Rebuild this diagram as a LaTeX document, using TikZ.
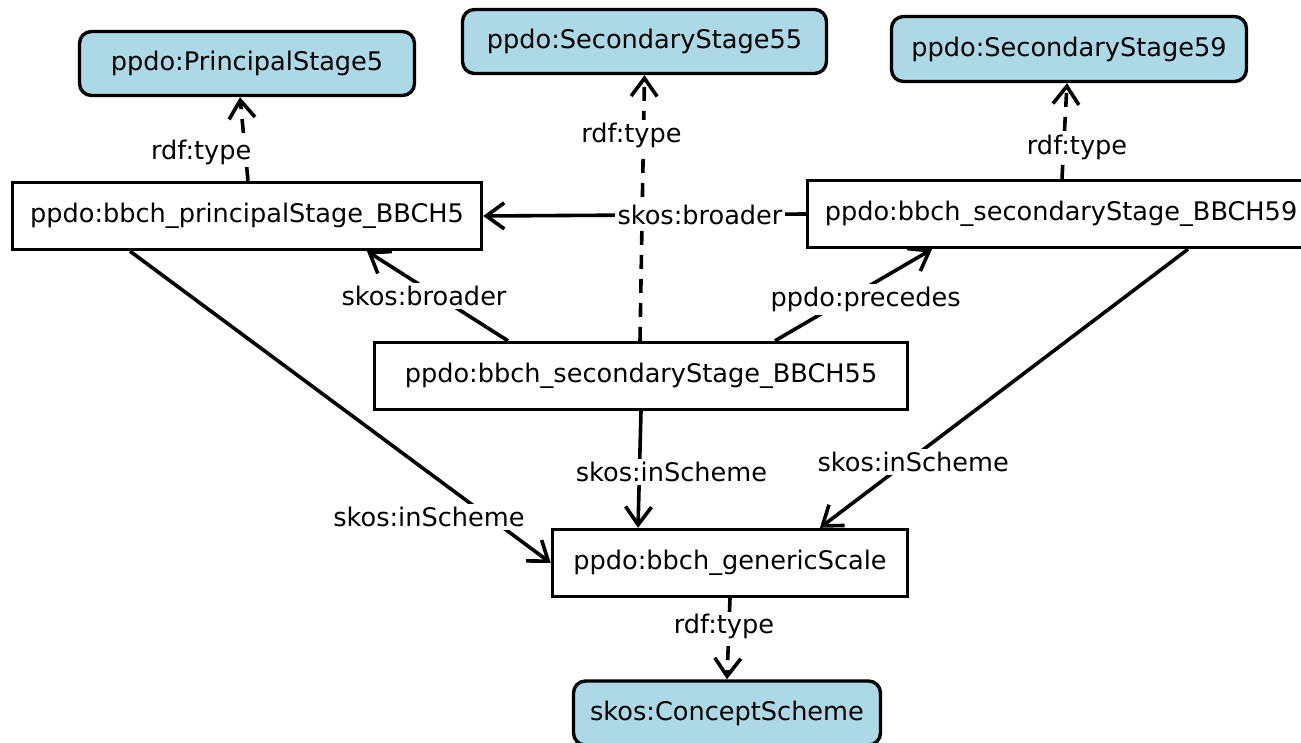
\documentclass[tikz,border=0pt]{standalone}
\usepackage{fontspec}
\setmainfont{DejaVu Sans}
\usetikzlibrary{arrows.meta}
\definecolor{classfill}{RGB}{173,216,230}
\begin{document}
\begin{tikzpicture}[x=0.5pt,y=-0.5pt,
  font=\fontsize{12.8}{15}\selectfont,
  inst/.style={draw, line width=1.7pt, fill=white, inner sep=0pt},
  cls/.style={draw, line width=1.7pt, fill=classfill, rounded corners=6pt, inner sep=0pt},
  rel/.style={line width=1.8pt, -{Straight Barb[length=9pt,width=13pt]}},
  typ/.style={rel, dash pattern=on 7pt off 5pt},
  lbl/.style={fill=white, inner sep=1.5pt}]
\useasboundingbox (0,0) rectangle (1301,743);
\clip (0,0) rectangle (1301,743);

% classes
\node[cls, minimum width=167.5pt, minimum height=32pt] (ps5)  at (247,63.5) {ppdo:PrincipalStage5};
\node[cls, minimum width=182pt,   minimum height=32pt] (ss55) at (644.5,41.5) {ppdo:SecondaryStage55};
\node[cls, minimum width=177.5pt, minimum height=32.5pt] (ss59) at (1069,49) {ppdo:SecondaryStage59};
\node[cls, minimum width=153.5pt, minimum height=32pt] (cs)   at (727,713) {skos:ConceptScheme};

% individuals
\node[inst, minimum width=234.5pt, minimum height=33.5pt] (b5)  at (247,216) {ppdo:bbch\_principalStage\_BBCH5};
\node[inst, minimum width=253.5pt, minimum height=33.5pt] (b59) at (1061,214) {ppdo:bbch\_secondaryStage\_BBCH59};
\node[inst, minimum width=266.5pt, minimum height=33.5pt] (b55) at (641,376) {ppdo:bbch\_secondaryStage\_BBCH55};
\node[inst, minimum width=177.5pt, minimum height=33.5pt] (gs)  at (730,563) {ppdo:bbch\_genericScale};

% rdf:type links
\draw[typ] ([xshift=0.5pt]b5.north) -- ([xshift=-3.5pt]ps5.south)
  node[lbl, pos=0.345, xshift=-22pt] {rdf:type};
\draw[typ] ([xshift=-0.5pt]b55.north) -- (ss55.south)
  node[lbl, pos=0.774, xshift=-6pt] {rdf:type};
\draw[typ] ([xshift=0.5pt]b59.north) -- ([xshift=-1pt]ss59.south)
  node[lbl, pos=0.323, xshift=6.7pt] {rdf:type};
\draw[typ] (gs.south) -- (cs.north)
  node[lbl, pos=0.354, xshift=-2.5pt] {rdf:type};

% hierarchy and order
\draw[rel] (b59.west) -- (b5.east)
  node[lbl, pos=0.328] {skos:broader};
\draw[rel] ([xshift=-66.5pt]b55.north) -- ([xshift=60pt]b5.south)
  node[lbl, pos=0.5, xshift=-6.75pt] {skos:broader};
\draw[rel] ([xshift=67pt]b55.north) -- ([xshift=-64.5pt]b59.south)
  node[lbl, pos=0.45, xshift=10pt] {ppdo:precedes};

% scheme membership
\draw[rel] ([xshift=-58.5pt]b5.south) -- (gs.west)
  node[lbl, pos=0.853, xshift=-30pt] {skos:inScheme};
\draw[rel] (b55.south) -- ([xshift=-46pt]gs.north)
  node[lbl, pos=0.52, xshift=16pt] {skos:inScheme};
\draw[rel] ([xshift=63.5pt]b59.south) -- ([xshift=45pt]gs.north)
  node[lbl, pos=0.763, xshift=3pt] {skos:inScheme};
\end{tikzpicture}
\end{document}
